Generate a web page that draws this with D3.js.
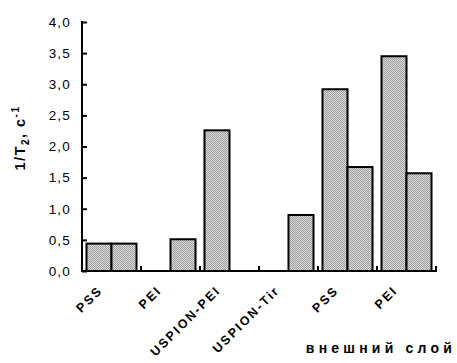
<!DOCTYPE html>
<html>
<head>
<meta charset="utf-8">
<script src="https://cdn.jsdelivr.net/npm/d3@7"></script>
<style>
  html, body { margin: 0; padding: 0; background: #fff; }
  svg { display: block; }
  text { font-family: "Liberation Sans", Arial, sans-serif; fill: #000; }
</style>
</head>
<body>
<svg id="chart" width="457" height="363"></svg>
<script>
const categories = ["PSS", "PEI", "USPION-PEI", "USPION-Tir", "PSS", "PEI"];
const seriesNames = ["s1", "s2"];
const series1 = [0.44, null, 2.26, null, 2.92, 3.45];
const series2 = [0.44, 0.51, null, 0.90, 1.67, 1.57];
const yTicks = [0, 0.5, 1.0, 1.5, 2.0, 2.5, 3.0, 3.5, 4.0];
const xTitle = "внешний слой";

const svg = d3.select("#chart");
const mLeft = 82, mRight = 436, mTop = 22, mBottom = 271;

const x0 = d3.scaleBand().domain(d3.range(categories.length)).range([mLeft, mRight]).paddingInner(0).paddingOuter(0);
const x1 = d3.scaleBand().domain(seriesNames).range([0, x0.bandwidth()]).paddingInner(0).paddingOuter(0.18);
const y = d3.scaleLinear().domain([0, 4]).range([mBottom, mTop]);

// dotted grey fill
const defs = svg.append("defs");
const pat = defs.append("pattern").attr("id", "dots").attr("width", 2).attr("height", 2).attr("patternUnits", "userSpaceOnUse");
pat.append("rect").attr("width", 2).attr("height", 2).attr("fill", "#dadada");
pat.append("rect").attr("x", 0).attr("y", 0).attr("width", 1).attr("height", 1).attr("fill", "#9e9e9e");
pat.append("rect").attr("x", 1).attr("y", 1).attr("width", 1).attr("height", 1).attr("fill", "#9e9e9e");

const data = [];
categories.forEach((c, i) => {
  [series1, series2].forEach((s, j) => {
    if (s[i] != null) data.push({ i, key: seriesNames[j], v: s[i] });
  });
});

svg.append("g").selectAll("rect").data(data).join("rect")
  .attr("x", d => x0(d.i) + x1(d.key))
  .attr("y", d => y(d.v))
  .attr("width", x1.bandwidth())
  .attr("height", d => y(0) - y(d.v))
  .attr("fill", "url(#dots)")
  .attr("stroke", "#000")
  .attr("stroke-width", 2);

// Y axis
const yAxis = d3.axisRight(y).tickValues(yTicks).tickSize(5).tickFormat("");
const gy = svg.append("g").attr("transform", `translate(${mLeft},0)`).call(yAxis);
gy.select(".domain").remove();
gy.selectAll(".tick line").attr("stroke", "#000").attr("stroke-width", 2);
svg.append("line").attr("x1", mLeft).attr("x2", mLeft).attr("y1", mTop - 1).attr("y2", mBottom + 1)
  .attr("stroke", "#000").attr("stroke-width", 2);

svg.append("g").selectAll("text").data(yTicks).join("text")
  .attr("x", 71).attr("y", d => y(d)).attr("dy", "0.36em")
  .attr("text-anchor", "end").attr("font-size", 13.5)
  .attr("letter-spacing", 1.2)
  .text(d => d3.format(".1f")(d).replace(".", ","));

// X axis
const bounds = d3.range(categories.length + 1).map(k => mLeft + k * x0.step());
svg.append("line").attr("x1", mLeft - 1).attr("x2", mRight + 1).attr("y1", mBottom).attr("y2", mBottom)
  .attr("stroke", "#000").attr("stroke-width", 2);
svg.append("g").selectAll("line").data(bounds.slice(1)).join("line")
  .attr("x1", d => d).attr("x2", d => d).attr("y1", mBottom).attr("y2", mBottom - 5)
  .attr("stroke", "#000").attr("stroke-width", 2);

svg.append("g").selectAll("text").data(categories).join("text")
  .attr("transform", (d, i) => `translate(${x0(i) + x0.bandwidth() / 2 - 8},${mBottom + 20}) rotate(-45)`)
  .attr("text-anchor", "end").attr("font-size", 12.5).attr("font-weight", "bold")
  .attr("letter-spacing", 2.1)
  .text(d => d);

svg.append("text").attr("x", 456).attr("y", 353).attr("text-anchor", "end")
  .attr("font-size", 14).attr("font-weight", "bold").attr("letter-spacing", 4.2)
  .text(xTitle);

// Y title
const yt = svg.append("text").attr("transform", `translate(25,138) rotate(-90)`)
  .attr("text-anchor", "middle").attr("font-size", 14.5).attr("font-weight", "bold")
  .attr("letter-spacing", 1.5);
yt.append("tspan").text("1/T");
yt.append("tspan").attr("font-size", 10).attr("dy", 4).text("2");
yt.append("tspan").attr("dy", -4).text(", c");
yt.append("tspan").attr("font-size", 10).attr("dy", -6).text("-1");
</script>
</body>
</html>
